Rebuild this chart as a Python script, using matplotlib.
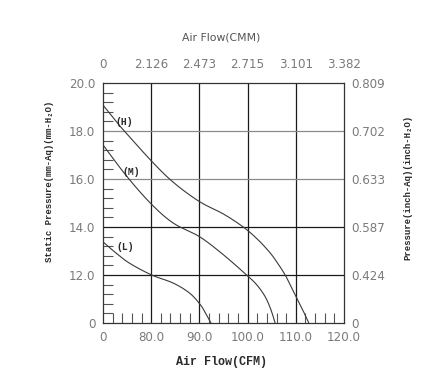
import numpy as np
import matplotlib
matplotlib.use('Agg')
import matplotlib.pyplot as plt
from matplotlib.ticker import FixedLocator, NullFormatter

# ---- axis tick values / labels ----
cfm_ticks = [0, 80, 90, 100, 110, 120]
cfm_labels = ['0', '80.0', '90.0', '100.0', '110.0', '120.0']
cmm_labels = ['0', '2.126', '2.473', '2.715', '3.101', '3.382']
mm_ticks = [0, 12, 14, 16, 18, 20]
mm_labels = ['0', '12.0', '14.0', '16.0', '18.0', '20.0']
inch_labels = ['0', '0.424', '0.587', '0.633', '0.702', '0.809']

# ---- curves (CFM, mm-H2O) ----
h_cfm = [0, 22.4, 36.8, 80, 84.6, 90, 95, 99.1, 102, 104.6, 106.2, 107.8, 109, 110.2, 111.4, 112.7]
h_mm = [19.08, 18.38, 17.96, 16.76, 15.86, 15.06, 14.54, 14.0, 13.5, 12.94, 12.5, 12.0, 9.12, 6.24, 3.36, 0]
m_cfm = [0, 39.2, 80, 84.6, 90, 95, 99.8, 101.5, 102.8, 103.8, 104.6, 105.2, 105.7]
m_mm = [17.42, 16.12, 14.96, 14.16, 13.6, 12.84, 12.0, 10.08, 8.16, 6.24, 4.08, 2.04, 0]
l_cfm = [0, 22.4, 44.8, 80.1, 84.6, 88, 90.2, 91.3, 92.4]
l_mm = [13.38, 12.9, 12.48, 12.0, 9.96, 7.44, 4.56, 2.4, 0]

curve_names = ['(H)', '(M)', '(L)']
name_cfm = [35, 47.6, 36.8]
name_mm = [18.38, 16.3, 13.18]

xpos = np.arange(len(cfm_ticks), dtype=float)
ypos = np.arange(len(mm_ticks), dtype=float)


def fx(v):
    return np.interp(v, cfm_ticks, xpos)


def fx_inv(u):
    return np.interp(u, xpos, cfm_ticks)


def fy(v):
    return np.interp(v, mm_ticks, ypos)


def fy_inv(u):
    return np.interp(u, ypos, mm_ticks)


def smooth(xs, ys, n=12):
    # Catmull-Rom through the read points in grid (display-linear) space
    gx, gy = fx(np.array(xs, float)), fy(np.array(ys, float))
    P = np.column_stack([gx, gy])
    P = np.vstack([2 * P[0] - P[1], P, 2 * P[-1] - P[-2]])
    out = []
    t = np.linspace(0, 1, n, endpoint=False)[:, None]
    for i in range(1, len(P) - 2):
        p0, p1, p2, p3 = P[i - 1], P[i], P[i + 1], P[i + 2]
        seg = 0.5 * ((2 * p1) + (-p0 + p2) * t + (2 * p0 - 5 * p1 + 4 * p2 - p3) * t ** 2
                     + (-p0 + 3 * p1 - 3 * p2 + p3) * t ** 3)
        out.append(seg)
    out.append(P[-2][None, :])
    out = np.vstack(out)
    return fx_inv(out[:, 0]), fy_inv(out[:, 1])


fig = plt.figure(figsize=(4.42, 3.86), dpi=100)
ax = fig.add_axes([103 / 442, 63 / 386, 241 / 442, 240 / 386])
ax.set_xscale('function', functions=(fx, fx_inv))
ax.set_yscale('function', functions=(fy, fy_inv))
ax.set_xlim(0, 120)
ax.set_ylim(0, 20)

line_col = '#3a3a3a'
# grid
for v in cfm_ticks[1:-1]:
    ax.axvline(v, color='#1a1a1a', lw=0.9, zorder=1)
hcols = {12: '#1a1a1a', 14: '#1a1a1a', 16: '#8a8a8a', 18: '#8a8a8a'}
for v in mm_ticks[1:-1]:
    ax.axhline(v, color=hcols[v], lw=0.9, zorder=1)

for xs, ys in [(h_cfm, h_mm), (m_cfm, m_mm), (l_cfm, l_mm)]:
    sx, sy = smooth(xs, ys)
    ax.plot(sx, sy, color=line_col, lw=0.8, zorder=3, clip_on=True)

for name, x, y in zip(curve_names, name_cfm, name_mm):
    ax.text(x, y, name, fontsize=7, family='Liberation Mono', fontweight='bold',
            color='#2a2a2a', ha='center', va='center', zorder=4)

# minor ticks
xminor = np.concatenate([np.linspace(a, b, 6)[1:-1] for a, b in zip(cfm_ticks[:-1], cfm_ticks[1:])])
yminor = np.concatenate([np.linspace(a, b, 6)[1:-1] for a, b in zip(mm_ticks[:-1], mm_ticks[1:])])
ax.xaxis.set_minor_locator(FixedLocator(xminor))
ax.yaxis.set_minor_locator(FixedLocator(yminor))
ax.xaxis.set_minor_formatter(NullFormatter())
ax.yaxis.set_minor_formatter(NullFormatter())
ax.tick_params(which='minor', direction='in', length=6.9, width=0.8, color='#555555',
               top=True, right=True, bottom=True, left=True)

tick_col = '#7a7a7a'
ax.set_xticks(cfm_ticks, labels=cfm_labels)
ax.set_yticks(mm_ticks, labels=mm_labels)
ax.tick_params(which='major', length=0, pad=5.5, labelsize=8.6, labelcolor=tick_col)

for s in ax.spines.values():
    s.set_color('#333333')
    s.set_linewidth(0.9)

# top axis (CMM)
axt = ax.twiny()
axt.set_xscale('function', functions=(fx, fx_inv))
axt.set_xlim(0, 120)
axt.set_xticks(cfm_ticks, labels=cmm_labels)
axt.tick_params(which='major', length=0, pad=9, labelsize=8.6, labelcolor=tick_col)
axt.tick_params(which='minor', length=0)
for s in axt.spines.values():
    s.set_visible(False)

# right axis (inch)
axr = ax.twinx()
axr.set_yscale('function', functions=(fy, fy_inv))
axr.set_ylim(0, 20)
axr.set_yticks(mm_ticks, labels=inch_labels)
axr.tick_params(which='major', length=0, pad=5.5, labelsize=8.6, labelcolor=tick_col)
axr.tick_params(which='minor', length=0)
for s in axr.spines.values():
    s.set_visible(False)

# titles / labels
fig.text(221 / 442, 1 - 37 / 386, 'Air Flow(CMM)', ha='center', va='center',
         fontsize=7.8, color='#555555', family='DejaVu Sans')
fig.text(222 / 442, 1 - 362 / 386, 'Air Flow(CFM)', ha='center', va='center',
         fontsize=8.5, color='#2a2a2a', family='Liberation Mono', fontweight='bold')
fig.text(50 / 442, 1 - 181 / 386, 'Static Pressure(mm-Aq)(mm-H\u2082O)', ha='center', va='center',
         rotation=90, fontsize=6.5, color='#2a2a2a', family=['Liberation Mono', 'DejaVu Sans Mono'],
         fontweight='bold')
fig.text(408 / 442, 1 - 187 / 386, 'Pressure(inch-Aq)(inch-H\u2082O)', ha='center', va='center',
         rotation=90, fontsize=6.5, color='#2a2a2a', family=['Liberation Mono', 'DejaVu Sans Mono'],
         fontweight='bold')

fig.savefig('out.png', dpi=100)
